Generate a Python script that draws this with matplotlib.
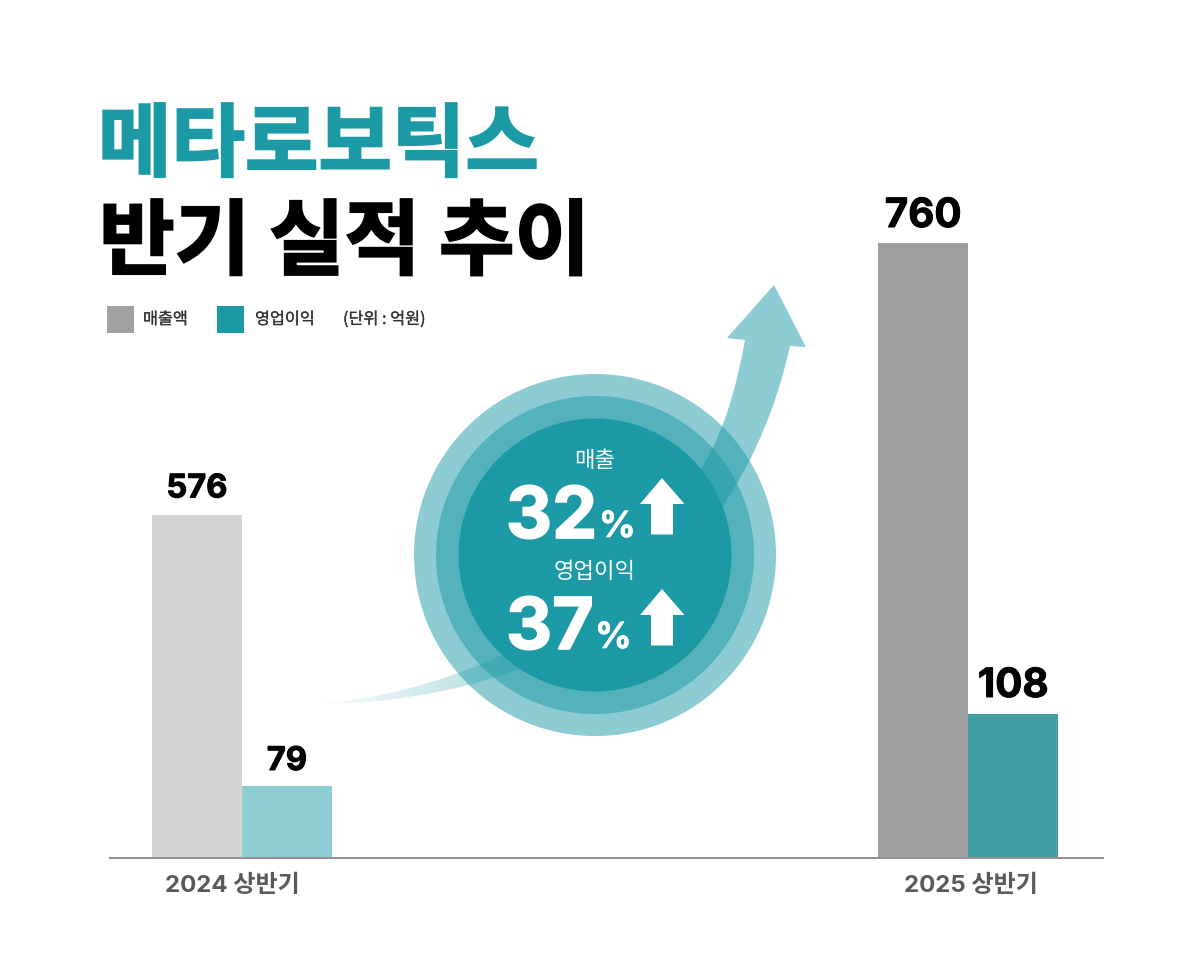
import numpy as np
import matplotlib
matplotlib.use("Agg")
import matplotlib.pyplot as plt
import matplotlib.patheffects as pe
from matplotlib.path import Path
from matplotlib.patches import Circle, PathPatch, Polygon, Rectangle

# --- data ---
periods = ["2024 상반기", "2025 상반기"]
series_names = ["매출액", "영업이익"]
revenue_labels = [576, 760]
profit_labels = [79, 108]
# The source graphic is not drawn to scale, so drawn heights are read separately
revenue_heights = [342, 614]
profit_heights = [71, 143]
growth_names = ["매출", "영업이익"]
growth_values = ["32", "37"]
unit_note = "(단위 : 억원)"
title_lines = ["메타로보틱스", "반기 실적 추이"]

TEAL = "#1b9aa6"
KR = ["Noto Sans CJK KR", "DejaVu Sans"]
NUM = ["Inter", "Noto Sans CJK KR", "DejaVu Sans"]


def fat(width, color):
    return [pe.withStroke(linewidth=width, foreground=color, joinstyle="miter")]


fig = plt.figure(figsize=(12, 9.68), dpi=100, facecolor="white")
ax = fig.add_axes([0, 0, 1, 1])

# --- arrow behind the circles, fading out towards its tail ---
verts = [(318, 704), (370, 700), (440, 684), (497, 657),
         (580, 618), (650, 550), (702, 467),
         (722, 435), (735, 395), (745, 340),
         (727, 338), (774, 285), (806, 347), (790, 346),
         (778, 400), (762, 435), (750, 460),
         (738, 482), (730, 495), (725, 503),
         (670, 590), (600, 640), (517, 670),
         (450, 694), (380, 704), (318, 704), (318, 704)]
codes = [Path.MOVETO] + [Path.CURVE4] * 9 + [Path.LINETO] * 4 + [Path.CURVE4] * 12 + [Path.CLOSEPOLY]
arrow_path = Path(verts, codes)
xs = np.linspace(0, 1, 600)
alpha = np.clip((xs * (830 - 310) + 310 - 305) / 300, 0, 1) * 0.5
rgba = np.zeros((1, 600, 4))
rgba[..., :3] = matplotlib.colors.to_rgb(TEAL)
rgba[..., 3] = alpha
im = ax.imshow(rgba, extent=(310, 830, 720, 270), aspect="auto", zorder=1, interpolation="bilinear")
clip = PathPatch(arrow_path, transform=ax.transData, fc="none", ec="none")
ax.add_patch(clip)
im.set_clip_path(clip)

# --- nested circles ---
cx, cy = 595, 555
ax.add_patch(Circle((cx, cy), 181, fc=TEAL, alpha=0.5, ec="none", zorder=2))
ax.add_patch(Circle((cx, cy), 159, fc=TEAL, alpha=0.5, ec="none", zorder=3))
ax.add_patch(Circle((cx, cy), 136.5, fc=TEAL, ec="none", zorder=4))

# --- bars ---
base = 857
centers = np.array([242, 968.3])
w = 90
prev_colors = ["#d4d4d4", "#8ecdd1"]
curr_colors = ["#9e9e9e", "#429ea4"]
rev_bars = ax.bar(centers - w / 2, revenue_heights, w, bottom=base,
                  color=[prev_colors[0], curr_colors[0]], zorder=5)
pro_bars = ax.bar(centers + w / 2, profit_heights, w, bottom=base,
                  color=[prev_colors[1], curr_colors[1]], zorder=5)
for b in list(rev_bars) + list(pro_bars):
    b.set_y(base - b.get_height())
ax.plot([109, 1104], [857.5, 857.5], color="#8a8686", lw=1.3, zorder=6, solid_capstyle="butt")

label_sizes = [23.5, 29]
rev_offsets = [17.5, 16]
pro_offsets = [16, 17]
for c, h, v, fs, off in zip(centers - w / 2, revenue_heights, revenue_labels, label_sizes, rev_offsets):
    ax.text(c, base - h - off, str(v), ha="center", va="baseline", family=NUM,
            fontsize=fs, fontweight="bold", color="black", zorder=7, path_effects=fat(0.7, "black"))
for c, h, v, fs, off in zip(centers + w / 2, profit_heights, profit_labels, label_sizes, pro_offsets):
    ax.text(c, base - h - off, str(v), ha="center", va="baseline", family=NUM,
            fontsize=fs, fontweight="bold", color="black", zorder=7, path_effects=fat(0.7, "black"))

for c, p in zip([232.5, 971], periods):
    ax.text(c, 892, p, ha="center", va="baseline", family=NUM, fontsize=17.3,
            fontweight="bold", color="#595959", zorder=7)

# --- title ---
ax.text(98, 170, title_lines[0], ha="left", va="baseline", family=KR, fontsize=57.5,
        fontweight="bold", color=TEAL, path_effects=fat(1.5, TEAL), zorder=7)
ax.text(99, 268, title_lines[1], ha="left", va="baseline", family=KR, fontsize=59.2,
        fontweight="bold", color="black", path_effects=fat(1.5, "black"), zorder=7)

# --- legend ---
for x, col, name, tx in zip([107, 217], ["#a0a0a0", TEAL], series_names, [143, 255]):
    ax.add_patch(Rectangle((x, 306), 27, 27, fc=col, ec="none", zorder=7))
    ax.text(tx, 324, name, ha="left", va="baseline", family=KR, fontsize=11.7,
            color="#333333", zorder=7, path_effects=fat(0.15, "#333333"))
ax.text(343, 324, unit_note, ha="left", va="baseline", family=KR, fontsize=11.7,
        color="#333333", zorder=7, path_effects=fat(0.15, "#333333"))

# --- growth callouts ---
for name, val, name_y, val_y, pct_x, arrow_top in zip(
        growth_names, growth_values, [467, 578], [538, 649], [599, 595], [478, 589]):
    ax.text(595, name_y, name, ha="center", va="baseline", family=KR, fontsize=16,
            color="white", zorder=8)
    ax.text(506, val_y, val, ha="left", va="baseline", family=NUM, fontsize=51.5,
            fontweight="bold", color="white", zorder=8, path_effects=fat(1.2, "white"))
    ax.text(pct_x, val_y - 1, "%", ha="left", va="baseline", family=NUM, fontsize=26,
            fontweight="bold", color="white", zorder=8, path_effects=fat(0.5, "white"))
    ax.add_patch(Polygon([(662, arrow_top), (684.5, arrow_top + 26), (673, arrow_top + 26),
                          (673, arrow_top + 56.5), (651, arrow_top + 56.5), (651, arrow_top + 26),
                          (640, arrow_top + 26)], fc="white", ec="none", zorder=8))

ax.set_xlim(0, 1200)
ax.set_ylim(968, 0)
ax.axis("off")
fig.savefig("out.png", dpi=100, facecolor="white")
